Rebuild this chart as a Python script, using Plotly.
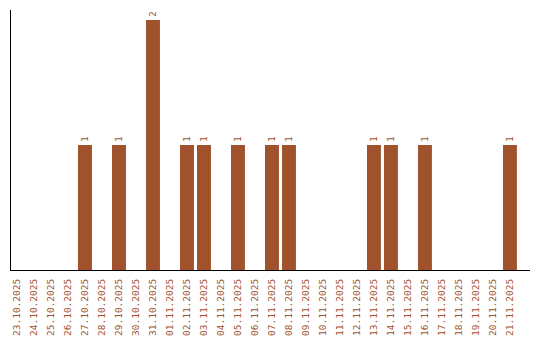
import plotly.graph_objects as go

dates = ["23.10.2025","24.10.2025","25.10.2025","26.10.2025","27.10.2025","28.10.2025",
         "29.10.2025","30.10.2025","31.10.2025","01.11.2025","02.11.2025","03.11.2025",
         "04.11.2025","05.11.2025","06.11.2025","07.11.2025","08.11.2025","09.11.2025",
         "10.11.2025","11.11.2025","12.11.2025","13.11.2025","14.11.2025","15.11.2025",
         "16.11.2025","17.11.2025","18.11.2025","19.11.2025","20.11.2025","21.11.2025"]
counts = [0,0,0,0,1,0,1,0,2,0,1,1,0,1,0,1,1,0,0,0,0,1,1,0,1,0,0,0,0,1]

color = "#A0522D"
font_family = "DejaVu Sans Mono"
labels = [str(c) if c > 0 else "" for c in counts]

fig = go.Figure(go.Bar(
    x=dates, y=counts, marker_color=color, marker_line_width=0,
    text=labels, textposition="outside", textangle=-90,
    textfont=dict(family=font_family, size=9.5, color=color),
    cliponaxis=False, width=0.82,
))
fig.update_layout(
    width=540, height=340, margin=dict(l=11, r=10, t=10, b=70, autoexpand=False),
    plot_bgcolor="white", paper_bgcolor="white", showlegend=False,
    font=dict(family=font_family, size=9.5, color=color),
)
fig.update_xaxes(type="category", range=[-0.353, 30.18], showline=True, linecolor="black",
                 linewidth=1, tickangle=-90, ticks="", showgrid=False, automargin=False,
                 ticklabelstandoff=4,
                 tickfont=dict(family=font_family, size=9.5, color=color))
fig.update_yaxes(range=[0, 2.08], showline=True, linecolor="black", linewidth=1,
                 showticklabels=False, ticks="", showgrid=False, zeroline=False,
                 automargin=False)
fig.write_html("out.html")
